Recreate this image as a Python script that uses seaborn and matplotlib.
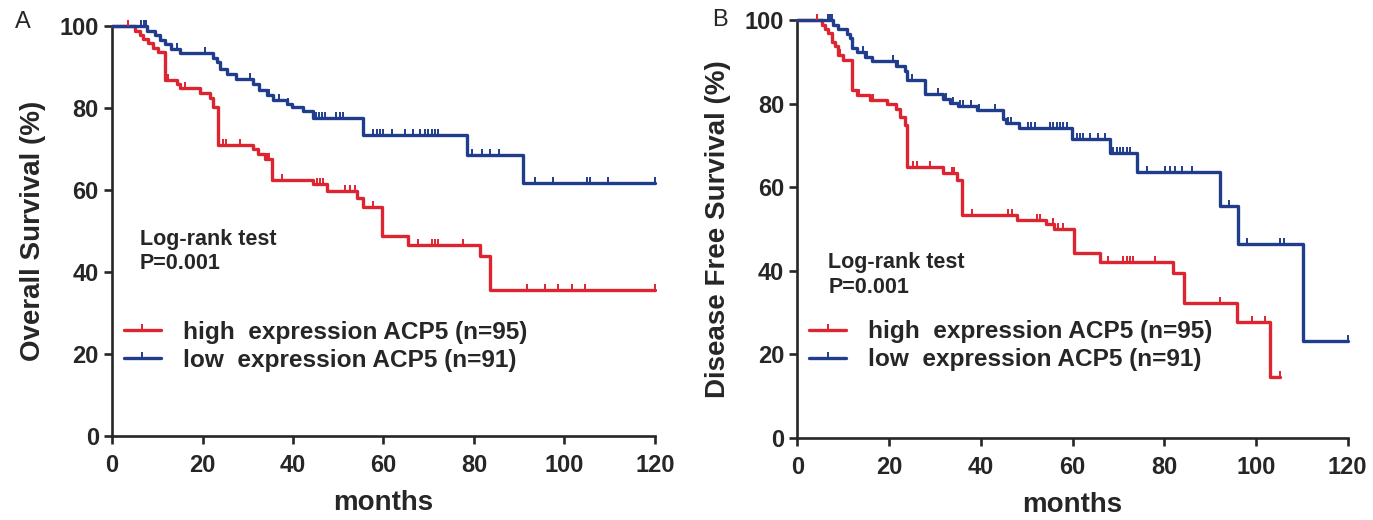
import numpy as np
import pandas as pd
import matplotlib
matplotlib.use('Agg')
import matplotlib.pyplot as plt
from matplotlib.path import Path
from matplotlib.lines import Line2D
import seaborn as sns

# ---- data ----
# Panel A: overall survival, step curves (time in months, survival %)
os_high_t = [0, 5.1, 6.2, 6.9, 8.0, 9.1, 10.2, 11.6, 14.3, 15.0, 19.4, 21.7, 22.4, 23.4,
             31.2, 32.3, 33.8, 35.4, 44.4, 47.5, 54.1, 55.5, 59.6, 65.4, 81.3, 83.5, 120]
os_high_s = [100, 98.9, 97.9, 96.8, 95.8, 94.7, 93.7, 86.9, 85.9, 84.8, 83.7, 82.4, 80.3, 71.0,
             69.9, 68.7, 67.5, 62.4, 61.4, 59.7, 58.1, 55.9, 48.9, 46.7, 43.8, 35.6, 35.6]
os_high_cens = [3.5, 12.4, 16.1, 24.5, 25.3, 28.3, 34.2, 34.8, 37.5, 45.3, 46.0, 46.6, 51.5,
                52.6, 53.7, 57.7, 67.6, 70.7, 71.4, 72.0, 77.6, 91.7, 95.7, 98.6, 101.7, 104.5, 120]

os_low_t = [0, 7.7, 9.5, 10.6, 11.7, 13.0, 15.0, 22.4, 23.3, 23.8, 25.5, 27.5, 31.2, 32.5,
            34.2, 35.6, 38.6, 39.7, 42.3, 44.5, 55.5, 78.4, 90.9, 120]
os_low_s = [100, 98.9, 97.8, 96.7, 95.6, 94.5, 93.4, 92.3, 91.1, 89.6, 88.4, 87.1, 85.8, 84.4,
            83.2, 81.9, 81.0, 80.2, 79.3, 77.6, 73.3, 68.5, 61.8, 61.8]
os_low_cens = [6.5, 7.0, 7.5, 14.3, 20.6, 30.5, 34.8, 37.0, 38.9, 45.0, 45.7, 46.4, 47.1, 49.6,
               50.4, 51.1, 57.7, 58.5, 59.2, 59.9, 61.8, 64.8, 66.6, 68.1, 69.2, 69.9, 70.7,
               71.4, 72.0, 79.6, 81.8, 83.5, 85.5, 93.5, 97.5, 105.0, 105.6, 109.6, 120]

# Panel B: disease free survival
dfs_high_t = [0, 5.3, 6.0, 6.7, 7.5, 8.2, 8.9, 10.0, 11.8, 12.9, 15.8, 19.5, 21.6, 22.4, 23.4,
              23.8, 31.8, 34.7, 35.8, 47.8, 54.3, 56.0, 60.2, 66.0, 82.0, 84.2, 95.8, 103.0, 105.2]
dfs_high_s = [100, 98.9, 97.9, 96.8, 94.7, 93.7, 91.6, 90.5, 83.2, 82.1, 80.9, 79.8, 78.6, 76.9,
              74.8, 64.9, 63.3, 61.7, 53.3, 52.2, 51.1, 50.0, 44.2, 42.2, 39.4, 32.2, 27.7, 14.7, 14.7]
dfs_high_cens = [4.2, 9.3, 13.4, 16.4, 25.2, 26.0, 28.9, 33.6, 34.2, 38.0, 45.9, 46.8, 52.2,
                 52.9, 55.7, 56.8, 57.9, 67.8, 71.0, 71.8, 72.5, 73.2, 77.9, 92.1, 99.1, 102.0, 105.2]

dfs_low_t = [0, 7.8, 8.9, 10.7, 11.5, 11.8, 12.9, 14.7, 16.2, 21.6, 23.4, 23.8, 27.8, 31.8, 33.3,
             35.1, 39.1, 44.9, 45.5, 48.3, 59.8, 68.2, 74.0, 92.1, 96.1, 110.3, 120]
dfs_low_s = [100, 98.9, 97.8, 96.7, 95.6, 93.4, 92.3, 91.2, 90.1, 88.9, 87.8, 85.6, 82.3, 81.2,
             80.1, 79.4, 78.4, 76.4, 75.3, 74.2, 71.6, 68.3, 63.6, 55.6, 46.3, 23.2, 23.2]
dfs_low_cens = [6.6, 7.0, 7.5, 14.4, 15.1, 20.9, 22.0, 24.9, 30.7, 32.5, 33.9, 35.5, 36.2, 37.9,
                39.7, 43.0, 45.9, 46.6, 50.3, 51.0, 51.8, 55.0, 55.7, 56.5, 57.3, 58.0, 58.8,
                60.9, 61.6, 62.3, 63.8, 65.6, 67.1, 68.9, 69.6, 70.4, 71.1, 71.8, 72.5, 76.2,
                80.2, 81.3, 82.4, 83.8, 86.0, 94.0, 98.0, 105.2, 106.0, 120]

labels = ['high  expression ACP5 (n=95)', 'low  expression ACP5 (n=91)']
red = '#dc2530'
blue = '#203c8c'

sns.set_style('ticks')
plt.rcParams['font.family'] = ['Liberation Sans', 'DejaVu Sans']

# upward censor tick
tick_marker = Path([(0, 0), (0, 1)], [Path.MOVETO, Path.LINETO])


def surv_at(ts, ss, t):
    i = np.searchsorted(ts, t, side='right') - 1
    return ss[i]


def draw_curve(ax, ts, ss, cens, color):
    df = pd.DataFrame({'t': ts, 's': ss})
    sns.lineplot(data=df, x='t', y='s', drawstyle='steps-post', color=color, lw=2.4,
                 estimator=None, ax=ax, clip_on=False, zorder=3)
    cdf = pd.DataFrame({'t': cens, 's': [surv_at(ts, ss, c) for c in cens]})
    sns.scatterplot(data=cdf, x='t', y='s', marker=tick_marker, s=70, color=color,
                    edgecolor=color, linewidth=1.4, ax=ax, clip_on=False, zorder=4)


fig = plt.figure(figsize=(13.73, 5.2), dpi=100)
axA = fig.add_axes([0.0816, 0.1615, 0.3954, 0.7885])
axB = fig.add_axes([0.5808, 0.1577, 0.4008, 0.8038])

panels = [
    (axA, os_high_t, os_high_s, os_high_cens, os_low_t, os_low_s, os_low_cens,
     'Overall Survival (%)', 'A'),
    (axB, dfs_high_t, dfs_high_s, dfs_high_cens, dfs_low_t, dfs_low_s, dfs_low_cens,
     'Disease Free Survival (%)', 'B'),
]

for ax, ht, hs, hc, lt, ls, lc, ylab, letter in panels:
    draw_curve(ax, ht, hs, hc, red)
    draw_curve(ax, lt, ls, lc, blue)
    ax.set_xlim(0, 120)
    ax.set_ylim(0, 100)
    ax.set_xticks(range(0, 121, 20))
    ax.set_yticks(range(0, 101, 20))
    sns.despine(ax=ax)
    for sp in ['left', 'bottom']:
        ax.spines[sp].set_linewidth(1.9)
    ax.tick_params(width=1.9, length=6, labelsize=17)
    ax.tick_params(axis='x', pad=7)
    for lab in ax.get_xticklabels() + ax.get_yticklabels():
        lab.set_fontweight('bold')
    ax.set_xlabel('months', fontsize=20, fontweight='bold', labelpad=9)
    ax.set_ylabel(ylab, fontsize=20, fontweight='bold', labelpad=10)

    handles = [Line2D([0], [0], color=c, lw=2.4, marker=tick_marker, markersize=9,
                      markeredgewidth=1.4) for c in (red, blue)]
    leg = ax.legend(handles, labels, loc='upper left', bbox_to_anchor=(0.004, 0.305),
                    frameon=False, fontsize=17.6, handlelength=1.5, handletextpad=0.9,
                    labelspacing=0.2, borderaxespad=0)
    for t in leg.get_texts():
        t.set_fontweight('bold')

axA.text(6.2, 45.0, 'Log-rank test\nP=0.001', fontsize=15.5, fontweight='bold',
         va='center', ha='left', linespacing=1.2)
axB.text(6.7, 39.0, 'Log-rank test\nP=0.001', fontsize=15.5, fontweight='bold',
         va='center', ha='left', linespacing=1.2)

fig.text(0.011, 0.957, 'A', fontsize=17, va='center', ha='left')
fig.text(0.519, 0.962, 'B', fontsize=17, va='center', ha='left')

fig.savefig('out.png', dpi=100)
